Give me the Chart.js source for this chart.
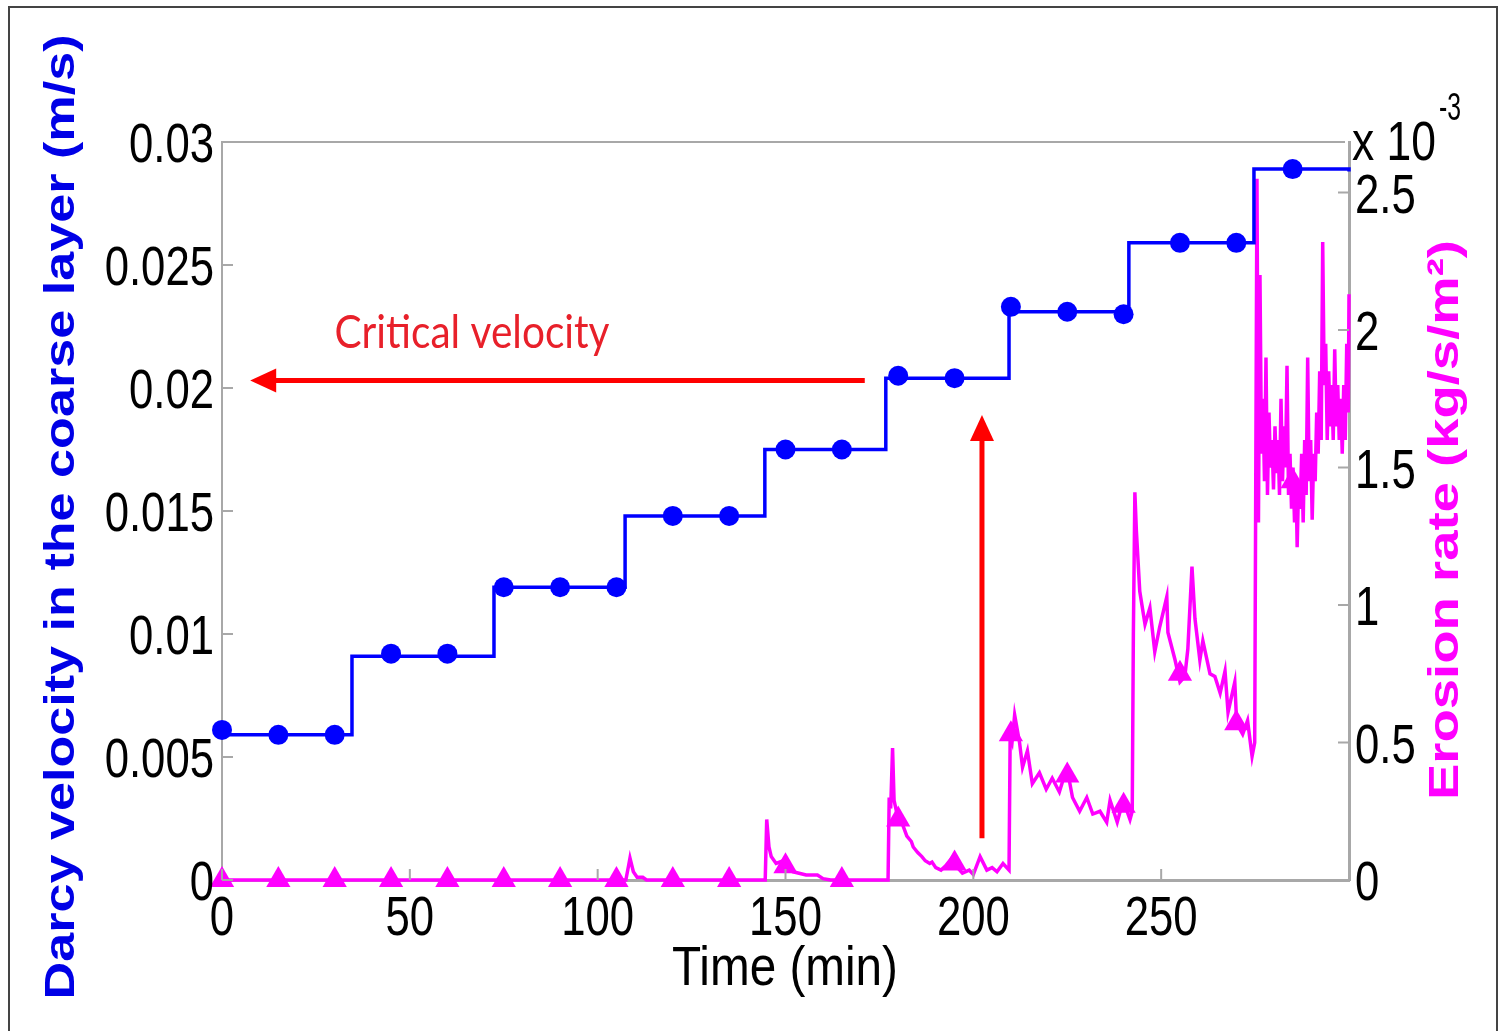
<!DOCTYPE html>
<html>
<head>
<meta charset="utf-8">
<script src="https://cdn.jsdelivr.net/npm/chart.js@4.4.1/dist/chart.umd.min.js"></script>
<style>
  html, body { margin: 0; padding: 0; background: #fff; }
  #frame { position: absolute; left: 8px; top: 6px; width: 1486px; height: 1040px; border: 2px solid #444; }
  #wrap { position: absolute; left: 0; top: 0; width: 1501px; height: 1031px; }
</style>
</head>
<body>
<div id="frame"></div>
<div id="wrap"><canvas id="chart" width="1501" height="1031"></canvas></div>
<script>
// blue: Darcy velocity, stepped
const stepStart = [0, 34.6, 72.4, 107.3, 144.5, 176.7, 209.5, 241.4, 274.7, 300];
const stepVelocity = [0.0059, 0.0091, 0.0119, 0.0148, 0.0175, 0.0204, 0.0231, 0.0259, 0.0289, 0.0288];

// marker positions every 15 min
const markerTime = [0, 15, 30, 45, 60, 75, 90, 105, 120, 135, 150, 165, 180, 195, 210, 225, 240, 255, 270, 285];
const markerVelocity = [0.0061, 0.0059, 0.0059, 0.0092, 0.0092, 0.0119, 0.0119, 0.0119, 0.0148, 0.0148,
  0.0175, 0.0175, 0.0205, 0.0204, 0.0233, 0.0231, 0.0230, 0.0259, 0.0259, 0.0289];
const markerErosion = [0, 0, 0, 0, 0, 0, 0, 0, 0, 0, 0.05, 0, 0.22, 0.06, 0.53, 0.38, 0.27, 0.75, 0.57, 1.45];

// magenta: erosion rate (x 10^-3 kg/s/m2)
const erosionTime = [
  0, 107.5, 108.2, 108.6, 109.5, 110.5, 112, 113,
  144.6, 145.0, 145.6, 146.2, 147.5, 149.4, 150.5, 152, 155.5, 158.5, 160, 162,
  177.3, 177.6, 178.0, 178.5, 178.9, 180.0, 181.2, 182.3, 183.5, 184.0, 185.2, 186.3, 187.2, 188.4, 189.0,
  190.0, 191.4, 192.5, 194.6, 195.5, 197.1, 198.9, 200.0, 201.8, 203.6, 205.0, 206.3, 207.9, 209.5,
  209.8, 210.3, 211.0, 212.3, 213.1, 214.4, 215.7, 217.6, 219.4, 221.0, 222.9, 224.7, 225.3, 226.4,
  228.3, 230.2, 231.8, 233.7, 235.5, 236.4, 238.3, 239.9, 241.7, 242.3,
  242.6, 243.0, 243.4, 244.3, 245.7, 247.0, 248.3, 249.6, 251.5, 251.8, 253.7, 255.0, 256.3, 257.1,
  258.2, 259.0, 260.3, 261.1, 263.0, 264.3, 265.7, 267.0, 267.8, 269.6, 270.1, 271.7, 273.0, 274.2, 274.9,
  275.5, 275.9, 276.3, 276.7, 277.1, 277.5, 277.9, 278.3, 278.7, 279.1, 279.5, 279.9, 280.3, 280.7,
  281.1, 281.5, 281.9, 282.3, 282.7, 283.1, 283.5, 283.9, 284.3, 284.7, 285.1, 285.5, 285.9, 286.2,
  286.6, 287.0, 287.4, 287.8, 288.2, 288.6, 289.0, 289.4, 289.8, 290.2, 290.6, 291.0, 291.4, 291.8,
  292.2, 292.6, 293.0, 293.4, 293.8, 294.2, 294.6, 295.0, 295.4, 295.8, 296.2, 296.6, 297.0, 297.4,
  297.8, 298.2, 298.6, 299.0, 299.4, 299.8, 300
];
const erosionRate = [
  0, 0, 0.05, 0.08, 0.03, 0.01, 0.01, 0,
  0, 0.22, 0.12, 0.085, 0.06, 0.07, 0.04, 0.03, 0.018, 0.018, 0.005, 0,
  0, 0.3, 0.26, 0.48, 0.29, 0.22, 0.2, 0.16, 0.14, 0.12, 0.1, 0.085, 0.07, 0.06, 0.065,
  0.045, 0.036, 0.05, 0.085, 0.05, 0.025, 0.036, 0.02, 0.085, 0.036, 0.045, 0.03, 0.06, 0.036,
  0.52, 0.50, 0.60, 0.50, 0.41, 0.47, 0.35, 0.39, 0.33, 0.37, 0.32, 0.40, 0.38, 0.30,
  0.25, 0.30, 0.24, 0.25, 0.21, 0.29, 0.21, 0.29, 0.22, 0.25,
  0.9, 1.41, 1.27, 1.05, 0.93, 0.99, 0.83, 0.92, 1.03, 0.90, 0.80, 0.72, 0.74, 0.84,
  1.14, 0.95, 0.80, 0.87, 0.75, 0.74, 0.68, 0.76, 0.61, 0.72, 0.57, 0.53, 0.58, 0.45, 0.5,
  2.55, 1.3, 2.2, 1.55, 1.75, 1.45, 1.9, 1.4, 1.7, 1.5, 1.6, 1.42, 1.65, 1.48,
  1.6, 1.4, 1.75, 1.45, 1.65, 1.5, 1.87, 1.4, 1.55, 1.35, 1.5, 1.3, 1.45, 1.21,
  1.45, 1.35, 1.55, 1.3, 1.6, 1.4, 1.9, 1.45, 1.6, 1.31, 1.55, 1.45, 1.7, 1.55,
  1.85, 1.6, 2.32, 1.8, 1.95, 1.6, 1.85, 1.65, 1.8, 1.6, 1.93, 1.65, 1.8, 1.6,
  1.75, 1.55, 1.8, 1.6, 1.95, 1.7, 2.13
];

// axes
const xTicks = [0, 50, 100, 150, 200, 250];
const xLabels = ['0', '50', '100', '150', '200', '250'];
const yLeftTicks = [0, 0.005, 0.01, 0.015, 0.02, 0.025, 0.03];
const yLeftLabels = ['0', '0.005', '0.01', '0.015', '0.02', '0.025', '0.03'];
const yRightTicks = [0, 0.5, 1, 1.5, 2, 2.5];
const yRightLabels = ['0', '0.5', '1', '1.5', '2', '2.5'];

// annotation: critical velocity arrows (data coords)
const arrowLeft = { x0: 171.1, x1: 7.5, y: 0.0203 };
const arrowUp = { x: 202.3, y0: 0.0017, y1: 0.0189 };

const BLUE = '#0000ff';
const MAGENTA = '#ff00ff';
const RED = '#ff0000';
const AXIS = '#a8a8a8';
const SANS = "'Liberation Sans', Arial, sans-serif";
const TICK_FONT = '56px ' + SANS;
const SQUEEZE = 0.78;   // the source figure is horizontally compressed

function fitText(ctx, text, x, y, angle, length, font, color) {
  ctx.save();
  ctx.font = font;
  const w = ctx.measureText(text).width;
  ctx.translate(x, y);
  ctx.rotate(angle);
  ctx.scale(length / w, 1);
  ctx.fillStyle = color;
  ctx.textAlign = 'center';
  ctx.textBaseline = 'alphabetic';
  ctx.fillText(text, 0, 0);
  ctx.restore();
}

function tickText(ctx, text, x, baseline, align) {
  ctx.save();
  ctx.font = TICK_FONT;
  ctx.fillStyle = '#000';
  ctx.textAlign = align;
  ctx.textBaseline = 'alphabetic';
  ctx.translate(x, baseline);
  ctx.scale(SQUEEZE, 1);
  ctx.fillText(text, 0, 0);
  ctx.restore();
}

function arrowHead(ctx, tipX, tipY, dx, dy, len, half) {
  const bx = tipX - dx * len, by = tipY - dy * len;
  ctx.beginPath();
  ctx.moveTo(tipX, tipY);
  ctx.lineTo(bx - dy * half, by + dx * half);
  ctx.lineTo(bx + dy * half, by - dx * half);
  ctx.closePath();
  ctx.fill();
}

const decorations = {
  id: 'decorations',
  afterDraw(chart) {
    const { ctx, chartArea: a, scales } = chart;
    const sx = scales.x, sy = scales.y, sr = scales.y1;
    ctx.save();
    // top edge of box
    ctx.strokeStyle = AXIS;
    ctx.lineWidth = 2;
    ctx.beginPath();
    ctx.moveTo(a.left, a.top);
    ctx.lineTo(a.right - 4, a.top);
    ctx.stroke();
    // inward tick marks
    ctx.beginPath();
    xTicks.forEach(v => { const p = sx.getPixelForValue(v); ctx.moveTo(p, a.bottom); ctx.lineTo(p, a.bottom - 11); });
    yLeftTicks.forEach(v => { const p = sy.getPixelForValue(v); ctx.moveTo(a.left, p); ctx.lineTo(a.left + 11, p); });
    yRightTicks.forEach(v => { const p = sr.getPixelForValue(v); ctx.moveTo(a.right, p); ctx.lineTo(a.right - 11, p); });
    ctx.stroke();
    ctx.restore();

    // tick labels at the scale positions
    xTicks.forEach((v, i) => tickText(ctx, xLabels[i], sx.getPixelForValue(v), a.bottom + 55, 'center'));
    yLeftTicks.forEach((v, i) => tickText(ctx, yLeftLabels[i], a.left - 8, sy.getPixelForValue(v) + 20, 'right'));
    yRightTicks.forEach((v, i) => tickText(ctx, yRightLabels[i], a.right + 6, sr.getPixelForValue(v) + 20, 'left'));

    // axis titles
    fitText(ctx, 'Darcy velocity in the coarse layer (m/s)', 74, 517, -Math.PI / 2, 965,
      'bold 43px ' + SANS, '#0000e6');
    fitText(ctx, 'Erosion rate (kg/s/m\u00b2)', 1458, 520, -Math.PI / 2, 560,
      'bold 43px ' + SANS, MAGENTA);
    fitText(ctx, 'Time (min)', 785, 985, 0, 226, '56px ' + SANS, '#000');

    // exponent label
    fitText(ctx, 'x 10', 1394, 160, 0, 84, '56px ' + SANS, '#000');
    fitText(ctx, '-3', 1450, 120, 0, 22, '38px ' + SANS, '#000');

    // critical velocity annotation
    fitText(ctx, 'Critical velocity', 472, 348, 0, 275, "46px Lato, 'Open Sans', sans-serif", '#e8202a');
    ctx.save();
    ctx.strokeStyle = RED;
    ctx.fillStyle = RED;
    ctx.lineWidth = 5;
    const hx0 = sx.getPixelForValue(arrowLeft.x0), hx1 = sx.getPixelForValue(arrowLeft.x1);
    const hy = sy.getPixelForValue(arrowLeft.y);
    ctx.beginPath();
    ctx.moveTo(hx0, hy);
    ctx.lineTo(hx1 + 20, hy);
    ctx.stroke();
    arrowHead(ctx, hx1, hy, -1, 0, 26, 12);
    const vx = sx.getPixelForValue(arrowUp.x);
    const vy0 = sy.getPixelForValue(arrowUp.y0), vy1 = sy.getPixelForValue(arrowUp.y1);
    ctx.beginPath();
    ctx.moveTo(vx, vy0);
    ctx.lineTo(vx, vy1 + 20);
    ctx.stroke();
    arrowHead(ctx, vx, vy1, 0, -1, 26, 12);
    ctx.restore();
  }
};

const ctx = document.getElementById('chart').getContext('2d');
new Chart(ctx, {
  type: 'line',
  data: {
    datasets: [
      {
        label: 'velocity markers',
        data: markerTime.map((t, i) => ({ x: t, y: markerVelocity[i] })),
        yAxisID: 'y',
        showLine: false,
        pointStyle: 'circle',
        pointRadius: 10,
        backgroundColor: BLUE,
        borderColor: BLUE,
        borderWidth: 0,
        clip: false
      },
      {
        label: 'Darcy velocity',
        data: stepStart.map((t, i) => ({ x: t, y: stepVelocity[i] })),
        yAxisID: 'y',
        stepped: true,
        borderColor: BLUE,
        borderWidth: 3.5,
        pointRadius: 0,
        fill: false,
        clip: false
      },
      {
        label: 'erosion markers',
        data: markerTime.map((t, i) => ({ x: t, y: markerErosion[i] })),
        yAxisID: 'y1',
        showLine: false,
        pointStyle: 'triangle',
        pointRadius: 14,
        backgroundColor: MAGENTA,
        borderColor: MAGENTA,
        borderWidth: 0,
        clip: false
      },
      {
        label: 'Erosion rate',
        data: erosionTime.map((t, i) => ({ x: t, y: erosionRate[i] })),
        yAxisID: 'y1',
        borderColor: MAGENTA,
        borderWidth: 3.5,
        pointRadius: 0,
        tension: 0,
        fill: false,
        clip: false
      }
    ]
  },
  options: {
    responsive: false,
    animation: false,
    devicePixelRatio: 1,
    layout: { padding: { top: 142, left: 0, right: 0, bottom: 0 } },
    plugins: { legend: { display: false }, tooltip: { enabled: false } },
    scales: {
      x: {
        type: 'linear',
        position: 'bottom',
        min: 0,
        max: 300,
        grid: { display: false, drawTicks: false },
        border: { display: true, color: AXIS, width: 3 },
        afterBuildTicks: s => { s.ticks = xTicks.map(v => ({ value: v })); },
        afterFit: s => { s.height = 151; },
        ticks: { display: false }
      },
      y: {
        type: 'linear',
        position: 'left',
        min: 0,
        max: 0.03,
        grid: { display: false, drawTicks: false },
        border: { display: true, color: AXIS, width: 2 },
        afterBuildTicks: s => { s.ticks = yLeftTicks.map(v => ({ value: v })); },
        afterFit: s => { s.width = 222; },
        ticks: { display: false }
      },
      y1: {
        type: 'linear',
        position: 'right',
        min: 0,
        max: 2.684,
        grid: { display: false, drawTicks: false },
        border: { display: true, color: AXIS, width: 3 },
        afterBuildTicks: s => { s.ticks = yRightTicks.map(v => ({ value: v })); },
        afterFit: s => { s.width = 152; },
        ticks: { display: false }
      }
    }
  },
  plugins: [decorations]
});
</script>
</body>
</html>
